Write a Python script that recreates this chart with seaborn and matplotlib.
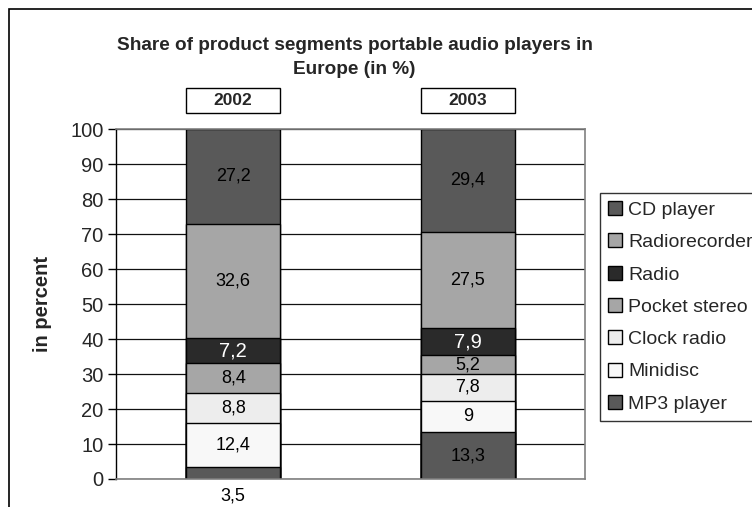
import numpy as np
import pandas as pd
import matplotlib
matplotlib.use("Agg")
import matplotlib.pyplot as plt
from matplotlib.patches import Rectangle, Patch
from matplotlib.transforms import blended_transform_factory
import seaborn as sns

# ---- data (bottom to top of each stack) ----
segments = ["MP3 player", "Minidisc", "Clock radio", "Pocket stereo",
            "Radio", "Radiorecorder", "CD player"]
years = ["2002", "2003"]
values_2002 = [3.5, 12.4, 8.8, 8.4, 7.2, 32.6, 27.2]
values_2003 = [13.3, 9.0, 7.8, 5.2, 7.9, 27.5, 29.4]
seg_colors = ["#595959", "#F8F8F8", "#EDEDED", "#A6A6A6",
              "#2A2A2A", "#A6A6A6", "#595959"]
label_colors = ["black", "black", "black", "black", "white", "black", "black"]

title_lines = ["Share of product segments portable audio players in",
               "Europe (in %)"]
y_label = "in percent"
y_ticks = [0, 10, 20, 30, 40, 50, 60, 70, 80, 90, 100]

sns.set_style("white")
plt.rcParams["font.family"] = ["Liberation Sans", "DejaVu Sans"]

rows = []
for yr, vals in zip(years, [values_2002, values_2003]):
    cum = np.cumsum(vals)
    for seg, v, top in zip(segments, vals, cum):
        rows.append(dict(year=yr, segment=seg, value=v, top=top, bottom=top - v))
df = pd.DataFrame(rows)

W, H = 752, 507
fig = plt.figure(figsize=(W / 100, H / 100), dpi=100)
ax = fig.add_axes([116 / W, 1 - 479 / H, (585 - 116) / W, (479 - 129) / H])

# gridlines behind bars
ax.set_axisbelow(True)
ax.yaxis.grid(True, color="#111111", linewidth=0.9)
ax.xaxis.grid(False)

# stacked bars: draw cumulative tops from the top segment down
for i in range(len(segments) - 1, -1, -1):
    sub = df[df["segment"] == segments[i]]
    sns.barplot(data=sub, x="year", y="top", order=years, color=seg_colors[i],
                saturation=1, edgecolor="black", linewidth=1.0, width=0.4,
                errorbar=None, ax=ax, zorder=2)

# value labels
for xi, yr in enumerate(years):
    sub = df[df["year"] == yr]
    for i, seg in enumerate(segments):
        r = sub[sub["segment"] == seg].iloc[0]
        txt = f"{r['value']:g}".replace(".", ",")
        fs = 14.5 if seg == "Radio" else 13
        if r["value"] < 5:
            ax.annotate(txt, xy=(xi, 0), xytext=(0, -6), textcoords="offset points",
                        ha="center", va="top", fontsize=fs, color=label_colors[i],
                        annotation_clip=False)
        else:
            ax.text(xi, (r["top"] + r["bottom"]) / 2, txt, ha="center", va="center",
                    fontsize=fs, color=label_colors[i], zorder=5)

ax.set_xlim(-0.5, 1.5)
ax.set_ylim(0, 100)
ax.set_yticks(y_ticks)
ax.set_yticklabels([str(t) for t in y_ticks], fontsize=14.5)
ax.set_xticks([])
ax.set_xlabel("")
ax.tick_params(axis="y", which="both", direction="out", length=6, width=1,
               color="black", left=True, pad=3)
ax.set_ylabel(y_label, fontsize=14.5, fontweight="bold")
ax.yaxis.set_label_coords(-0.1365, 0.5)

for side in ["top", "right", "bottom"]:
    ax.spines[side].set_visible(True)
    ax.spines[side].set_color("#808080")
    ax.spines[side].set_linewidth(1.2)
ax.spines["left"].set_color("black")
ax.spines["left"].set_linewidth(1.0)

# year boxes above bars
tr = blended_transform_factory(ax.transData, fig.transFigure)
y0, y1 = 1 - 113 / H, 1 - 88 / H
for xi, yr in enumerate(years):
    ax.add_patch(Rectangle((xi - 0.2, y0), 0.4, y1 - y0, transform=tr,
                           facecolor="white", edgecolor="black", linewidth=1.0,
                           clip_on=False))
    ax.text(xi, (y0 + y1) / 2, yr, transform=tr, ha="center", va="center",
            fontsize=12.5, fontweight="bold", clip_on=False)

# title
fig.text(354.5 / W, 1 - 45 / H, title_lines[0], ha="center", va="center",
         fontsize=13.7, fontweight="bold")
fig.text(354.5 / W, 1 - 70 / H, title_lines[1], ha="center", va="center",
         fontsize=13.7, fontweight="bold")

# legend (top segment first)
handles = [Patch(facecolor=seg_colors[i], edgecolor="black", linewidth=1.0, label=segments[i])
           for i in range(len(segments) - 1, -1, -1)]
leg = fig.legend(handles=handles, loc="upper left",
                 bbox_to_anchor=(600 / W, 1 - 193 / H), frameon=True, fancybox=False,
                 edgecolor="black", fontsize=14, handlelength=0.72, handleheight=0.72,
                 handletextpad=0.3, labelspacing=0.75, borderpad=0.42,
                 borderaxespad=0)
leg.get_frame().set_linewidth(1.0)

# outer chart frame
fig.add_artist(Rectangle((9 / W, -0.1), 1.2, (1 - 9 / H) + 0.1, transform=fig.transFigure,
                         fill=False, edgecolor="black", linewidth=1.2))

fig.savefig("out.png", dpi=100)
